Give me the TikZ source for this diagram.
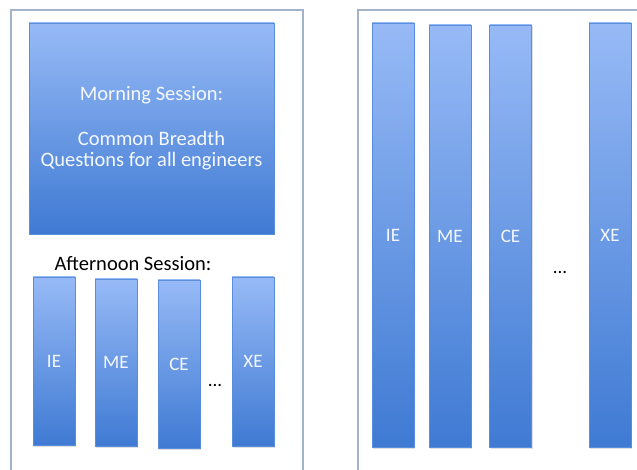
\documentclass[tikz,border=0pt]{standalone}
\usepackage{fontspec}
\setmainfont{Carlito}
\usetikzlibrary{positioning,shadows}
\definecolor{bartop}{HTML}{97BAF6}
\definecolor{barbot}{HTML}{3F7AD3}
\definecolor{frameline}{HTML}{A3B3CB}
\begin{document}
\begin{tikzpicture}[x=1pt, y=-1pt, every node/.style={font=\fontsize{19}{21}\selectfont}]
\tikzset{
  mbox/.style={rectangle, draw=barbot!70!bartop, top color=bartop, bottom color=barbot, minimum width=245pt, minimum height=211pt, inner sep=0pt, text=white!90!bartop, align=center, font=\fontsize{20.5}{21}\selectfont, drop shadow={opacity=0.25, shadow xshift=1pt, shadow yshift=-1.5pt}},
  sbar/.style={rectangle, draw=barbot!70!bartop, top color=bartop, bottom color=barbot, minimum width=42pt, inner sep=0pt, text=white!90!bartop, drop shadow={opacity=0.25, shadow xshift=1pt, shadow yshift=-1.5pt}},
  frame/.style={draw=frameline, line width=1.3pt}
}
\clip (0,0) rectangle (637,470);
\fill[white] (0,0) rectangle (637,470);
% the two outer frames
\draw[frame] (11,10) rectangle (303,490);
\draw[frame] (358,10) rectangle (660,490);
% left: morning and afternoon sessions
\node[mbox] (morning) at (151.5,128.5) {Morning Session:\\[24pt]Common Breadth\\Questions for all engineers};
\node[font=\fontsize{20.5}{21}\selectfont] (afternoon) at (133,264) {Afternoon Session:};
\node[sbar, minimum height=168pt] (ie1) at (54,361) {IE};
\node[sbar, minimum height=167pt] (me1) at (116,362.5) {ME};
\node[sbar, minimum height=168pt] (ce1) at (179,364) {CE};
\node[sbar, minimum height=169pt] (xe1) at (253,361.5) {XE};
\node (dots1) at (215,385) {...};
% right: full-day sessions
\node[sbar, minimum height=424pt] (ie2) at (393,235) {IE};
\node[sbar, minimum height=422pt] (me2) at (450,236) {ME};
\node[sbar, minimum height=422pt] (ce2) at (510.5,236) {CE};
\node[sbar, minimum height=424pt] (xe2) at (610,235) {XE};
\node (dots2) at (560,272) {...};
\end{tikzpicture}
\end{document}
